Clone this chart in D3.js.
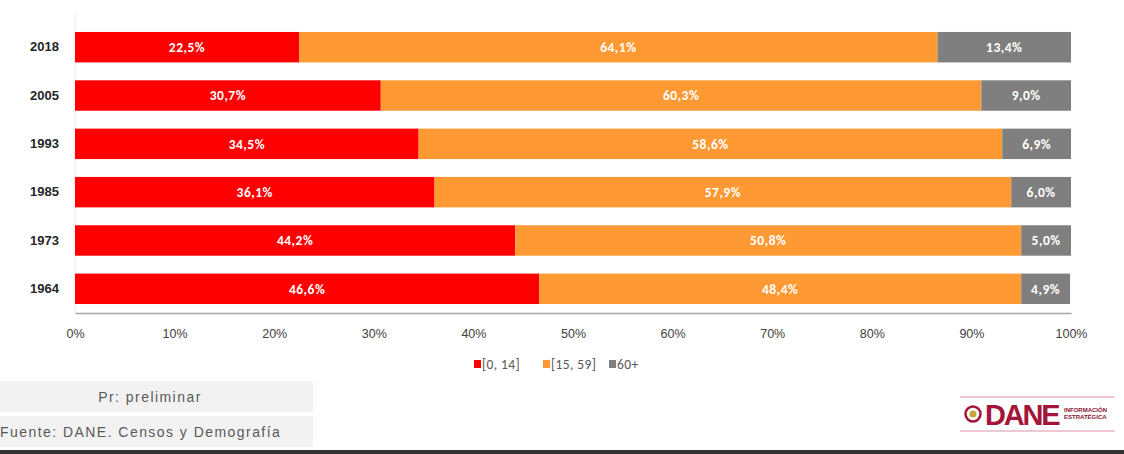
<!DOCTYPE html>
<html>
<head>
<meta charset="utf-8">
<script src="https://cdn.jsdelivr.net/npm/d3@7"></script>
<style>
  body { margin: 0; background: #fff; }
  svg { display: block; font-family: Calibri, Carlito, "Liberation Sans", "DejaVu Sans", sans-serif; }
</style>
</head>
<body>
<svg id="chart" width="1124" height="454"></svg>
<script>
// data
var years = ["2018", "2005", "1993", "1985", "1973", "1964"];
var groups = ["[0, 14]", "[15, 59]", "60+"];
var young = [22.5, 30.7, 34.5, 36.1, 44.2, 46.6];
var adult = [64.1, 60.3, 58.6, 57.9, 50.8, 48.4];
var old = [13.4, 9.0, 6.9, 6.0, 5.0, 4.9];
var ticks = [0, 10, 20, 30, 40, 50, 60, 70, 80, 90, 100];
var colors = ["#ff0000", "#ff9933", "#7f7f7f"];

(function () {
    var svg = d3.select("#chart");
    var margin = {left: 75, right: 53, top: 24, bottom: 142};
    var width = 1124 - margin.left - margin.right;
    var height = 454 - margin.top - margin.bottom;

    var rows = years.map(function (y, i) {
        return {year: y, a: young[i], b: adult[i], c: old[i]};
    });
    var stacked = d3.stack().keys(["a", "b", "c"])(rows);

    var x = d3.scaleLinear().domain([0, 100]).range([0, width]);
    var y = d3.scaleBand().domain(years).range([0, height]).paddingInner(0.37).paddingOuter(0.165);

    var g = svg.append("g").attr("transform", "translate(" + margin.left + "," + margin.top + ")");

    // faint left guide
    g.append("line")
        .attr("x1", 0).attr("x2", 0)
        .attr("y1", -10).attr("y2", height)
        .attr("stroke", "#ececec");

    var layer = g.selectAll(".layer")
        .data(stacked)
        .enter().append("g")
        .attr("class", "layer")
        .attr("fill", function (d, i) { return colors[i]; });

    layer.selectAll("rect")
        .data(function (d) { return d; })
        .enter().append("rect")
        .attr("x", function (d) { return x(d[0]); })
        .attr("width", function (d) { return x(Math.min(d[1], 100)) - x(d[0]); })
        .attr("y", function (d) { return y(d.data.year); })
        .attr("height", y.bandwidth());

    layer.selectAll("text")
        .data(function (d) { return d; })
        .enter().append("text")
        .attr("x", function (d) { return (x(d[0]) + x(Math.min(d[1], 100))) / 2; })
        .attr("y", function (d) { return y(d.data.year) + y.bandwidth() / 2; })
        .attr("dy", "0.35em")
        .attr("text-anchor", "middle")
        .attr("fill", "#ffffff")
        .attr("font-size", 13.5)
        .attr("font-weight", "bold")
        .attr("letter-spacing", 0.5)
        .text(function (d) { return (d[1] - d[0]).toFixed(1).replace(".", ",") + "%"; });

    // x axis
    var xAxis = g.append("g")
        .attr("transform", "translate(0," + (height + 1) + ")")
        .call(d3.axisBottom(x).tickValues(ticks).tickSize(0).tickPadding(16)
            .tickFormat(function (d) { return d + "%"; }));
    xAxis.select(".domain").attr("stroke", "#a6a6a6").attr("stroke-width", 1.5);
    xAxis.selectAll("text").attr("font-size", 12.5).attr("fill", "#404040");

    // y axis
    var yAxis = g.append("g")
        .call(d3.axisLeft(y).tickSize(0).tickPadding(16));
    yAxis.select(".domain").remove();
    yAxis.selectAll("text").attr("font-size", 13).attr("font-weight", 600).attr("fill", "#262626");

    // legend
    var legendX = [474, 543, 609];
    var legend = svg.selectAll(".legend")
        .data(groups)
        .enter().append("g")
        .attr("class", "legend")
        .attr("transform", function (d, i) { return "translate(" + legendX[i] + ",364)"; });
    legend.append("rect")
        .attr("x", 0).attr("y", -4).attr("width", 7).attr("height", 8)
        .attr("fill", function (d, i) { return colors[i]; });
    legend.append("text")
        .attr("x", 8).attr("dy", "0.35em")
        .attr("font-size", 13.5).attr("fill", "#595959")
        .attr("letter-spacing", 0.4)
        .text(function (d) { return d; });

    // footer notes
    var notes = ["Pr: preliminar", "Fuente: DANE. Censos y Demografía"];
    var foot = svg.selectAll(".note")
        .data(notes)
        .enter().append("g")
        .attr("class", "note")
        .attr("transform", function (d, i) { return "translate(0," + (381 + i * 35) + ")"; });
    foot.append("rect")
        .attr("width", 313).attr("height", 31).attr("fill", "#f2f2f2");
    foot.append("text")
        .attr("x", function (d, i) { return i === 0 ? 150 : 0; })
        .attr("y", 16).attr("dy", "0.35em")
        .attr("text-anchor", function (d, i) { return i === 0 ? "middle" : "start"; })
        .attr("font-family", "'Liberation Sans', Arial, sans-serif")
        .attr("font-size", 14).attr("fill", "#595959")
        .attr("letter-spacing", 1.45)
        .text(function (d) { return d; });

    // DANE logo
    var logo = svg.append("g").attr("transform", "translate(960,397)");
    logo.append("line").attr("x1", 0).attr("x2", 155).attr("y1", 0).attr("y2", 0)
        .attr("stroke", "#e8b7c4").attr("stroke-width", 1.5);
    logo.append("line").attr("x1", 0).attr("x2", 155).attr("y1", 34).attr("y2", 34)
        .attr("stroke", "#e8b7c4").attr("stroke-width", 1.5);
    logo.append("circle").attr("cx", 13).attr("cy", 17).attr("r", 7.5)
        .attr("fill", "#fff").attr("stroke", "#a3163a").attr("stroke-width", 2.5);
    logo.append("circle").attr("cx", 13).attr("cy", 17).attr("r", 3.5).attr("fill", "#c9a53b");
    logo.append("text").attr("x", 25).attr("y", 28)
        .attr("font-family", "'Liberation Sans', Arial, sans-serif")
        .attr("font-weight", "bold").attr("font-size", 29)
        .attr("letter-spacing", -2.2)
        .attr("fill", "#a3163a").text("DANE");
    logo.append("text").attr("x", 104).attr("y", 15)
        .attr("font-family", "'Liberation Sans', Arial, sans-serif")
        .attr("font-weight", "bold").attr("font-size", 6)
        .attr("fill", "#8a1530").text("INFORMACIÓN");
    logo.append("text").attr("x", 104).attr("y", 22)
        .attr("font-family", "'Liberation Sans', Arial, sans-serif")
        .attr("font-weight", "bold").attr("font-size", 6)
        .attr("fill", "#8a1530").text("ESTRATÉGICA");

    // bottom border
    svg.append("rect").attr("x", 0).attr("y", 450).attr("width", 1124).attr("height", 4).attr("fill", "#333333");
})();
</script>
</body>
</html>
